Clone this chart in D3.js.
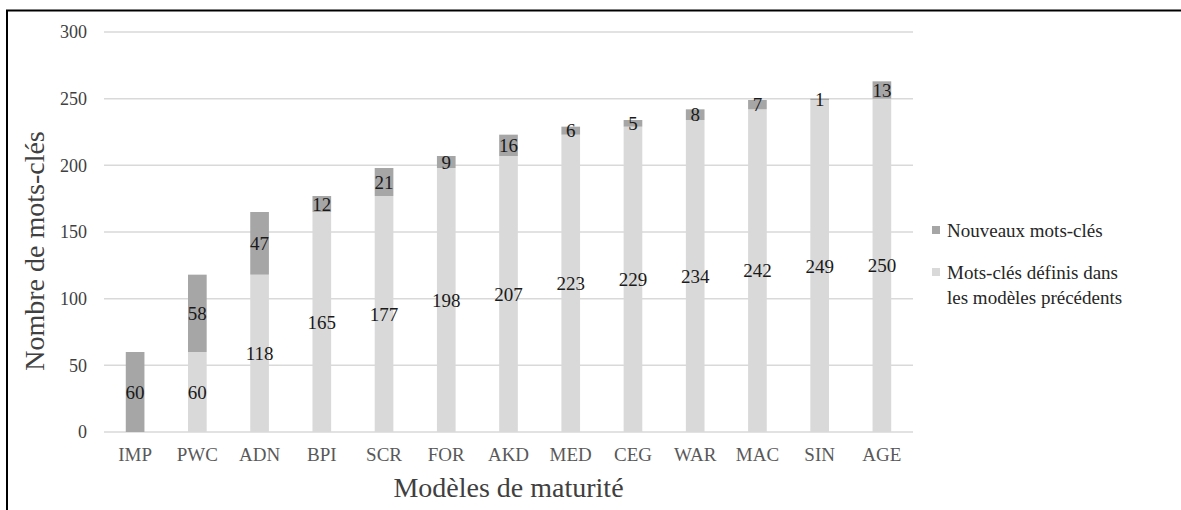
<!DOCTYPE html>
<html>
<head>
<meta charset="utf-8">
<script src="https://cdn.jsdelivr.net/npm/d3@7"></script>
<style>
  html, body { margin: 0; padding: 0; background: #fff; }
  svg { display: block; }
  svg text { font-family: "Liberation Serif", "Times New Roman", serif; }
</style>
</head>
<body>
<svg id="chart" width="1181" height="510"></svg>
<script>
// Maturity models, in order of publication
const categories = ["IMP", "PWC", "ADN", "BPI", "SCR", "FOR", "AKD", "MED", "CEG", "WAR", "MAC", "SIN", "AGE"];
// Keywords already defined in earlier models
const previousKeywords = [0, 60, 118, 165, 177, 198, 207, 223, 229, 234, 242, 249, 250];
// Keywords introduced by each model
const newKeywords = [60, 58, 47, 12, 21, 9, 16, 6, 5, 8, 7, 1, 13];
const yTicks = [0, 50, 100, 150, 200, 250, 300];

const colorNew = "#a6a6a6";
const colorPrev = "#d9d9d9";
const serif = "Liberation Serif, Times New Roman, serif";

const svg = d3.select("#chart");

// Frame lines (top and left)
svg.append("line").attr("x1", 6).attr("x2", 1181).attr("y1", 10.5).attr("y2", 10.5)
  .attr("stroke", "#000").attr("stroke-width", 2);
svg.append("line").attr("x1", 7).attr("x2", 7).attr("y1", 10).attr("y2", 510)
  .attr("stroke", "#000").attr("stroke-width", 2);

const plot = { left: 104, right: 913, top: 32, bottom: 432 };

const x = d3.scaleBand().domain(categories).range([plot.left, plot.right]).paddingInner(0.7).paddingOuter(0.35);
const y = d3.scaleLinear().domain([0, 300]).range([plot.bottom, plot.top]);

// Gridlines
svg.append("g").selectAll("line").data(yTicks).join("line")
  .attr("x1", plot.left).attr("x2", plot.right)
  .attr("y1", d => y(d)).attr("y2", d => y(d))
  .attr("stroke", "#d9d9d9").attr("stroke-width", 1.5);

// Y axis labels
const yAxis = d3.axisLeft(y).tickValues(yTicks).tickSize(0).tickPadding(17);
const gy = svg.append("g").attr("transform", `translate(${plot.left},0)`).call(yAxis)
  .attr("font-family", serif).attr("font-size", 18);
gy.select(".domain").remove();
gy.selectAll("text").attr("fill", "#404040");

// X axis labels
const xAxis = d3.axisBottom(x).tickSize(0).tickPadding(16);
const gx = svg.append("g").attr("transform", `translate(0,${plot.bottom})`).call(xAxis)
  .attr("font-family", serif).attr("font-size", 19);
gx.select(".domain").remove();
gx.selectAll("text").attr("fill", "#595959");

// Stacked bars
const rows = categories.map((c, i) => ({ cat: c, prev: previousKeywords[i], nouv: newKeywords[i] }));
const stack = d3.stack().keys(["prev", "nouv"]);
const layers = stack(rows);
const colors = { prev: colorPrev, nouv: colorNew };

const gBars = svg.append("g");
layers.forEach(layer => {
  gBars.append("g").selectAll("rect").data(layer).join("rect")
    .attr("x", d => x(d.data.cat))
    .attr("width", x.bandwidth())
    .attr("y", d => y(d[1]))
    .attr("height", d => y(d[0]) - y(d[1]))
    .attr("fill", colors[layer.key]);
});

// Value labels centred in each segment
const gLabels = svg.append("g").attr("font-family", serif);
layers.forEach(layer => {
  gLabels.append("g").selectAll("text").data(layer.filter(d => d[1] - d[0] > 0)).join("text")
    .attr("x", d => x(d.data.cat) + x.bandwidth() / 2)
    .attr("y", d => y((d[0] + d[1]) / 2))
    .attr("dy", "0.35em")
    .attr("text-anchor", "middle")
    .attr("font-size", 19)
    .attr("fill", "#1a1a1a")
    .text(d => d[1] - d[0]);
});

// Axis titles
svg.append("text")
  .attr("transform", `translate(44,${(plot.top + plot.bottom) / 2 + 19}) rotate(-90)`)
  .attr("text-anchor", "middle")
  .attr("font-family", serif)
  .attr("font-size", 28)
  .attr("fill", "#404040")
  .text("Nombre de mots-clés");

svg.append("text")
  .attr("x", (plot.left + plot.right) / 2)
  .attr("y", 497)
  .attr("text-anchor", "middle")
  .attr("font-family", serif)
  .attr("font-size", 28)
  .attr("fill", "#404040")
  .text("Modèles de maturité");

// Legend
const legend = svg.append("g").attr("transform", "translate(932,0)").attr("font-family", serif);
const legendItems = [
  { color: colorNew, lines: ["Nouveaux mots-clés"], y: 230 },
  { color: colorPrev, lines: ["Mots-clés définis dans", "les modèles précédents"], y: 272 }
];
legendItems.forEach(it => {
  legend.append("rect").attr("x", 0).attr("y", it.y - 4).attr("width", 8).attr("height", 8).attr("fill", it.color);
  const t = legend.append("text").attr("x", 15).attr("y", it.y)
    .attr("font-size", 19).attr("fill", "#262626");
  it.lines.forEach((ln, j) => {
    t.append("tspan").attr("x", 15).attr("dy", j === 0 ? "0.35em" : "1.35em").text(ln);
  });
});
</script>
</body>
</html>
